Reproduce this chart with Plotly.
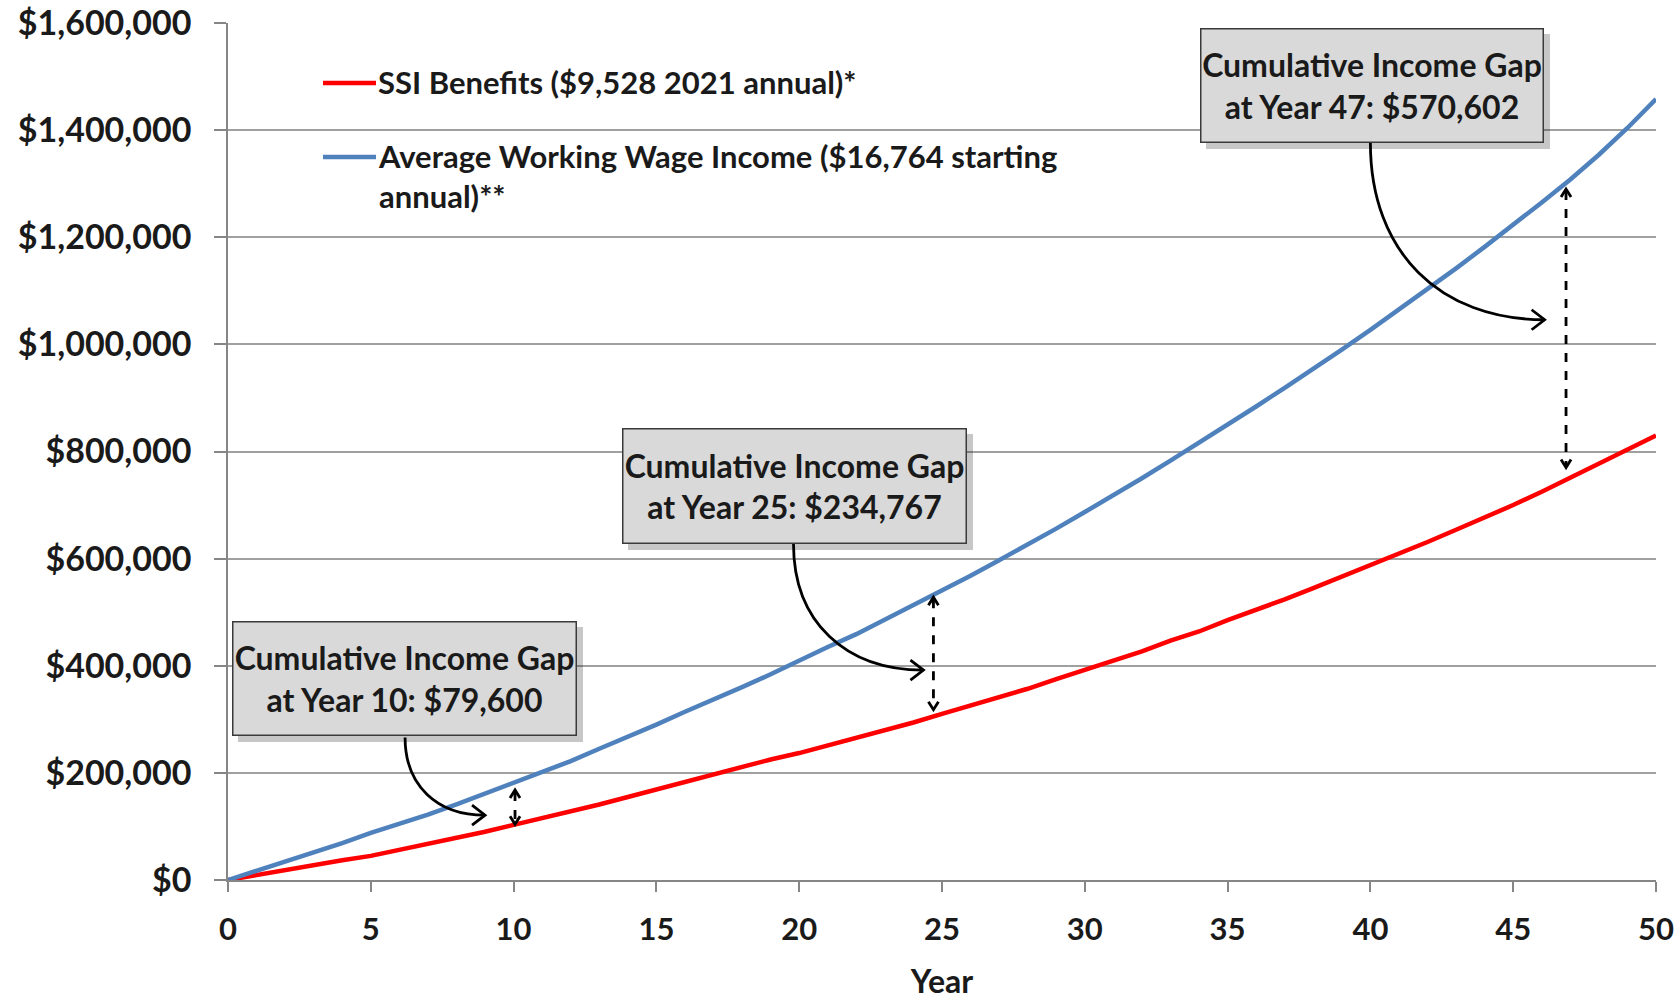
import plotly.graph_objects as go

# ---------------- data ----------------
years = list(range(0, 51))
ssi_cumulative = [
    0, 9500, 19000, 27000, 37000, 45000, 56000, 67000, 78000, 90000,
    103000, 115000, 128000, 141000, 155000, 169000, 184000, 198000, 212000, 225000,
    237000, 251000, 265000, 279000, 294000, 310000, 325000, 341000, 357000, 375000,
    392000, 408000, 427000, 447000, 464000, 485000, 504000, 524000, 545000, 566000,
    588000, 609000, 631000, 654000, 676000, 700000, 725000, 751000, 777000, 803000,
    830000,
]
wage_cumulative = [
    0, 17000, 34500, 52000, 69000, 88000, 104000, 122000, 141000, 161000,
    181000, 202000, 222000, 245000, 267000, 290000, 314000, 336000, 360000, 384000,
    410000, 435000, 459000, 486000, 513000, 540000, 568000, 597000, 626000, 656000,
    687000, 718000, 750000, 783000, 816000, 850000, 884000, 919000, 954000, 990000,
    1027000, 1065000, 1103000, 1142000, 1182000, 1223000, 1265000, 1308000, 1354000, 1404000,
    1458000,
]
series_names = [
    "SSI Benefits ($9,528 2021 annual)*",
    "Average Working Wage Income ($16,764 starting<br>annual)**",
]
series_colors = ["#ff0000", "#4f81bd"]

y_tick_values = [0, 200000, 400000, 600000, 800000, 1000000, 1200000, 1400000, 1600000]
y_tick_labels = ["$0", "$200,000", "$400,000", "$600,000", "$800,000",
                 "$1,000,000", "$1,200,000", "$1,400,000", "$1,600,000"]
x_tick_values = [0, 5, 10, 15, 20, 25, 30, 35, 40, 45, 50]

gap_labels = ["Cumulative Income Gap<br>at Year 10: $79,600",
              "Cumulative Income Gap<br>at Year 25: $234,767",
              "Cumulative Income Gap<br>at Year 47: $570,602"]

# ---------------- layout geometry ----------------
W, H = 1678, 1000
PLOT_L, PLOT_R, PLOT_T, PLOT_B = 228, 1656, 23, 880   # plot area in window pixels
L, R, T, B = PLOT_L, W - PLOT_R, PLOT_T, H - PLOT_B
XMAX, YMAX = 50, 1600000
FONT = "Lato, Calibri, Carlito, sans-serif"
TXT = "#1a1a1a"


def xpx(v):
    return PLOT_L + v / XMAX * (PLOT_R - PLOT_L)


def ypx(v):
    return PLOT_T + (1 - v / YMAX) * (PLOT_B - PLOT_T)


def paper(xp, yp):
    return (xp - PLOT_L) / (PLOT_R - PLOT_L), 1 - (yp - PLOT_T) / (PLOT_B - PLOT_T)


def ppath(points, cmds):
    out = []
    for c, (xp, yp) in zip(cmds, points):
        X, Y = paper(xp, yp)
        out.append(f"{c}{X:.6f},{Y:.6f}")
    return " ".join(out)


fig = go.Figure()
for vals, name, col in zip([ssi_cumulative, wage_cumulative], series_names, series_colors):
    fig.add_trace(go.Scatter(x=years, y=vals, mode="lines", name=name,
                             line=dict(color=col, width=4.5), showlegend=False))

shapes = []
annotations = []

# legend drawn in the plot area, top left
legend_y = [83, 157]
for yp, name, col in zip(legend_y, series_names, series_colors):
    x0, y0 = paper(323, yp)
    x1, _ = paper(376, yp)
    shapes.append(dict(type="line", xref="paper", yref="paper", x0=x0, x1=x1, y0=y0, y1=y0,
                       line=dict(color=col, width=4.5), layer="above"))
    tx, ty = paper(376, yp - 22)
    annotations.append(dict(xref="paper", yref="paper", x=tx, y=ty, xanchor="left", yanchor="top",
                            text=name, showarrow=False, align="left",
                            font=dict(family=FONT, size=31, color=TXT, weight="bold")))

# gap boxes (window-pixel rectangles), curved arrows, dashed double arrows
boxes = [(232, 621, 577, 736), (622, 428, 967, 544), (1200, 28, 1544, 143)]
curve_start = [(6.2, 266000), (19.8, 628000), (40.0, 1376000)]
curve_end = [(9.0, 121000), (24.35, 392000), (46.1, 1046000)]
dbl_x = [10.05, 24.7, 46.85]
dbl_lo = [104000, 318000, 770000]
dbl_hi = [168000, 528000, 1290000]

for (bx0, by0, bx1, by1), label in zip(boxes, gap_labels):
    sx0, sy0 = paper(bx0 + 6, by0 + 6)
    sx1, sy1 = paper(bx1 + 6, by1 + 6)
    shapes.append(dict(type="rect", xref="paper", yref="paper", x0=sx0, y0=sy0, x1=sx1, y1=sy1,
                       fillcolor="rgba(0,0,0,0.22)", line=dict(width=0), layer="above"))
    cx, cy = paper((bx0 + bx1) / 2, (by0 + by1) / 2)
    annotations.append(dict(xref="paper", yref="paper", x=cx, y=cy, xanchor="center", yanchor="middle",
                            text=label, showarrow=False, align="center",
                            width=bx1 - bx0 - 3, height=by1 - by0 - 3, borderpad=0,
                            bgcolor="#d9d9d9", bordercolor="#3a3a3a", borderwidth=1.5,
                            font=dict(family=FONT, size=32, color=TXT, weight="bold")))

for (xs, ys), (xe, ye) in zip(curve_start, curve_end):
    sxp, syp = xpx(xs), ypx(ys)
    exp_, eyp = xpx(xe), ypx(ye)
    c1 = (sxp, syp + 0.62 * (eyp - syp))
    c2 = (sxp + 0.40 * (exp_ - sxp), eyp)
    shapes.append(dict(type="path", xref="paper", yref="paper",
                       path=ppath([(sxp, syp), c1, c2, (exp_, eyp)], ["M", "C", " ", " "]),
                       line=dict(color="black", width=2.8), layer="above"))
    shapes.append(dict(type="path", xref="paper", yref="paper",
                       path=ppath([(exp_ - 13, eyp - 10), (exp_, eyp), (exp_ - 13, eyp + 10)], ["M", "L", "L"]),
                       line=dict(color="black", width=2.8), layer="above"))

for xv, lo, hi in zip(dbl_x, dbl_lo, dbl_hi):
    xp_, ylo, yhi = xpx(xv), ypx(lo), ypx(hi)
    shapes.append(dict(type="path", xref="paper", yref="paper",
                       path=ppath([(xp_, yhi + 2), (xp_, ylo - 2)], ["M", "L"]),
                       line=dict(color="black", width=2.8, dash="dash"), layer="above"))
    for tip, back in [(yhi, yhi + 8), (ylo, ylo - 8)]:
        shapes.append(dict(type="path", xref="paper", yref="paper",
                           path=ppath([(xp_ - 5, back), (xp_, tip), (xp_ + 5, back)], ["M", "L", "L"]),
                           line=dict(color="black", width=2.8), layer="above"))

fig.update_layout(
    width=W, height=H,
    margin=dict(l=L, r=R, t=T, b=B, pad=0, autoexpand=False),
    paper_bgcolor="white", plot_bgcolor="white",
    font=dict(family=FONT, color=TXT),
    shapes=shapes, annotations=annotations,
    showlegend=False,
)
fig.update_xaxes(range=[0, XMAX], tickvals=x_tick_values, ticks="outside", ticklen=10,
                 tickcolor="#868686", tickwidth=1.5, showline=True, linecolor="#868686", linewidth=1.5,
                 showgrid=False, zeroline=False, ticklabelstandoff=11, automargin=False,
                 ticklabeloverflow="allow",
                 tickfont=dict(family=FONT, size=31, color=TXT, weight="bold"),
                 title=dict(text="Year", standoff=40,
                            font=dict(family=FONT, size=32, color=TXT, weight="bold")))
fig.update_yaxes(range=[0, YMAX], tickvals=y_tick_values, ticktext=y_tick_labels, ticks="outside",
                 ticklen=12, tickcolor="#868686", tickwidth=1.5, showline=True, linecolor="#868686",
                 linewidth=1.5, showgrid=True, gridcolor="#a0a0a0", gridwidth=1.5, zeroline=False,
                 ticklabelstandoff=16, automargin=False, ticklabeloverflow="allow",
                 tickfont=dict(family=FONT, size=34, color=TXT, weight="bold"))

# remove the default 8px page margin so the 1678x1000 figure fills the window exactly
fig.write_html("out.html",
               config={"displayModeBar": False},
               post_script="document.body.style.margin='0px';"
                           "document.documentElement.style.overflow='hidden';")
